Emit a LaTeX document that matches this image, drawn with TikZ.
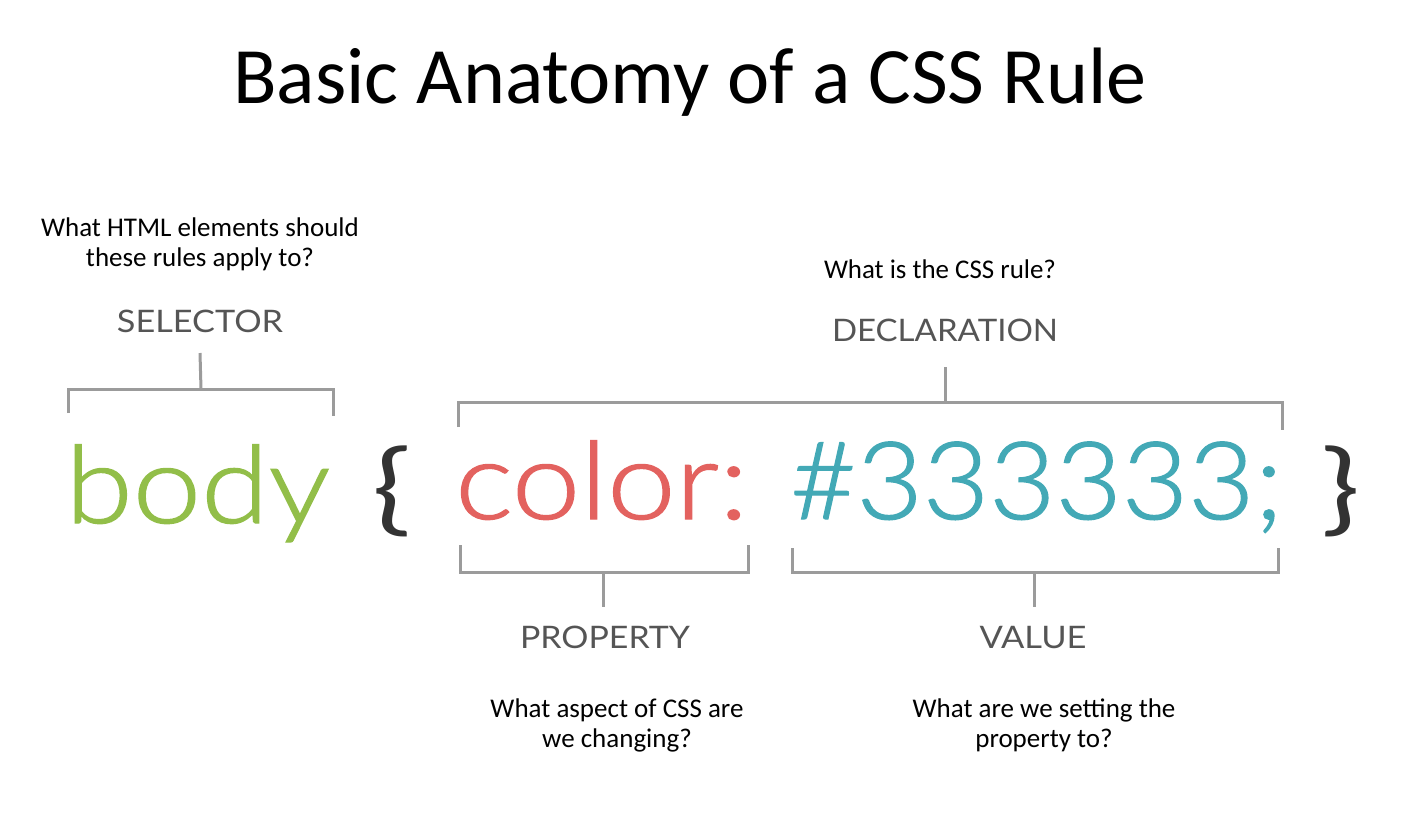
\documentclass[tikz,border=0pt]{standalone}
\usepackage{fontspec}
\setmainfont{Carlito}
\newfontfamily\codefont[FakeBold=1.2]{Lato Light}
\newfontfamily\labelfont{Lato}
\usetikzlibrary{positioning,calc}

\definecolor{bodygreen}{HTML}{92BE49}
\definecolor{propred}{HTML}{E3625F}
\definecolor{valteal}{HTML}{43A9B6}
\definecolor{bracketgray}{HTML}{9B9B9B}
\definecolor{labelgray}{HTML}{555555}
\definecolor{bracedark}{HTML}{333333}

\newcommand{\fitwidth}[2]{\resizebox{#1}{\height}{#2}}

\tikzset{
	question/.style={align=center, inner sep=0pt, anchor=base, font=\fontsize{27}{30}\selectfont},
	partlabel/.style={text=labelgray, inner sep=0pt, anchor=base, font=\labelfont\fontsize{31}{31}\selectfont},
	code/.style={inner sep=0pt, anchor=base west, font=\codefont\fontsize{108}{108}\selectfont},
	brace/.style={text=bracedark, inner sep=0pt, anchor=base, font=\labelfont\fontsize{100}{100}\selectfont},
	bracket/.style={draw=bracketgray, line width=3pt}
}

\begin{document}
\begin{tikzpicture}[x=1pt, y=-1pt]
	\useasboundingbox (0,0) rectangle (1402,828);

	% title
	\node (title) [inner sep=0pt, anchor=base, font=\fontsize{80}{80}\selectfont] at (690,103) {Basic Anatomy of a CSS Rule};

	% the rule itself
	\node (body) [code, text=bodygreen] at (65,523) {\fitwidth{265pt}{body}};
	\node (open) [brace] at (392,522) {\fitwidth{39pt}{\{}};
	\node (prop) [code, text=propred] at (455,519) {\fitwidth{293pt}{color:}};
	\node (val) [code, text=valteal] at (790,519) {\fitwidth{493pt}{\#333333;}};
	\node (close) [brace] at (1341,522) {\fitwidth{39pt}{\}}};

	% selector
	\node (selq) [question] at (200,266) {What HTML elements should\\these rules apply to?};
	\node (sel) [partlabel] at (200,332) {\fitwidth{166pt}{SELECTOR}};
	\coordinate (selmid) at (201,389);
	\draw[bracket] (68,413) |- (333,389) -- (333,416);
	\draw[bracket] (sel.south |- 0,353) -- (selmid);

	% declaration
	\node (declq) [question] at (940,278) {\fitwidth{232pt}{What is the CSS rule?}};
	\node (decl) [partlabel] at (945,341) {\fitwidth{226pt}{DECLARATION}};
	\coordinate (declmid) at (945,402);
	\draw[bracket] (458,427) |- (1282,402) -- (1282,430);
	\draw[bracket] (945,367) -- (declmid);

	% property
	\coordinate (propmid) at (603,572);
	\draw[bracket] (460,545) |- (748,572) -- (748,545);
	\node (propl) [partlabel] at (605,648) {\fitwidth{170pt}{PROPERTY}};
	\draw[bracket] (propmid) -- (603,607);
	\node (propq) [question] at (617,747) {What aspect of CSS are\\we changing?};

	% value
	\coordinate (valmid) at (1034,572);
	\draw[bracket] (792,548) |- (1278,572) -- (1278,548);
	\node (vall) [partlabel] at (1033,648) {\fitwidth{107pt}{VALUE}};
	\draw[bracket] (valmid) -- (1034,607);
	\node (valq) [question] at (1044,747) {What are we setting the\\property to?};
\end{tikzpicture}
\end{document}
